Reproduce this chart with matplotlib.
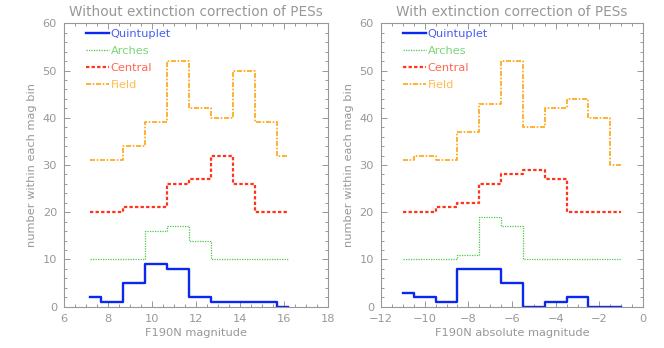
import matplotlib
matplotlib.use("Agg")
import matplotlib.pyplot as plt
from matplotlib.ticker import MultipleLocator

# bin centres
mag_obs = [7.2, 8.2, 9.2, 10.2, 11.2, 12.2, 13.2, 14.2, 15.2, 16.2]
mag_abs = [-11, -10, -9, -8, -7, -6, -5, -4, -3, -2, -1]

# counts per bin (Arches +10, Central +20, Field +30 offsets already included)
quint_obs = [2, 1, 5, 9, 8, 2, 1, 1, 1, 0]
arches_obs = [10, 10, 10, 16, 17, 14, 10, 10, 10, 10]
central_obs = [20, 20, 21, 21, 26, 27, 32, 26, 20, 20]
field_obs = [31, 31, 34, 39, 52, 42, 40, 50, 39, 32]

quint_abs = [3, 2, 1, 8, 8, 5, 0, 1, 2, 0, 0]
arches_abs = [10, 10, 10, 11, 19, 17, 10, 10, 10, 10, 10]
central_abs = [20, 20, 21, 22, 26, 28, 29, 27, 20, 20, 20]
field_abs = [31, 32, 31, 37, 43, 52, 38, 42, 44, 40, 30]

labels = ["Quintuplet", "Arches", "Central", "Field"]
colors = ["#0a28f0", "#4cc84c", "#ff3418", "#ffa510"]
styles = ["-", (0, (1, 1)), (0, (1.5, 1)), (0, (3, 1, 1, 1))]
widths = [1.7, 0.9, 1.6, 1.2]

gray = "#989898"
plt.rcParams["font.family"] = "DejaVu Sans"
plt.rcParams["text.color"] = gray

fig = plt.figure(figsize=(6.64, 3.48), dpi=100)
ax1 = fig.add_axes([0.0964, 0.1187, 0.3976, 0.8144])
ax2 = fig.add_axes([0.5738, 0.1187, 0.3946, 0.8144])


def panel(ax, x, series, title, xlabel, xlim):
    for y, lab, c, ls, lw in zip(series, labels, colors, styles, widths):
        ax.step(x, y, where="mid", color=c, linestyle=ls, linewidth=lw, label=lab)
    ax.set_xlim(*xlim)
    ax.set_ylim(0, 60)
    ax.xaxis.set_major_locator(MultipleLocator(2))
    ax.xaxis.set_minor_locator(MultipleLocator(0.5))
    ax.yaxis.set_major_locator(MultipleLocator(10))
    ax.yaxis.set_minor_locator(MultipleLocator(2))
    ax.tick_params(which="both", direction="in", top=True, right=True,
                   color=gray, labelcolor=gray, labelsize=8.2, width=0.7)
    ax.tick_params(which="major", length=4.5)
    ax.tick_params(which="minor", length=2.2)
    ax.tick_params(axis="x", which="major", pad=5)
    ax.tick_params(axis="y", which="major", pad=5)
    ax.xaxis.set_major_formatter(plt.FuncFormatter(lambda v, p: f"{v:.0f}".replace("-", "\u2212")))
    for s in ax.spines.values():
        s.set_color(gray)
        s.set_linewidth(0.8)
    ax.set_title(title, fontsize=9.8, color=gray, pad=5)
    ax.set_xlabel(xlabel, fontsize=8.2, color=gray, labelpad=3)
    ax.set_ylabel("number within each mag bin", fontsize=8.2, color=gray, labelpad=4)
    leg = ax.legend(loc="upper left", bbox_to_anchor=(0.045, 1.015), frameon=False,
                    fontsize=8.2, handlelength=2.0, handletextpad=0.15,
                    labelspacing=0.6, labelcolor="linecolor")
    for t in leg.get_texts():
        t.set_alpha(0.75)


panel(ax1, mag_obs, [quint_obs, arches_obs, central_obs, field_obs],
      "Without extinction correction of PESs", "F190N magnitude", (6, 18))
panel(ax2, mag_abs, [quint_abs, arches_abs, central_abs, field_abs],
      "With extinction correction of PESs", "F190N absolute magnitude", (-12, 0))

fig.savefig("out.png", dpi=100)
